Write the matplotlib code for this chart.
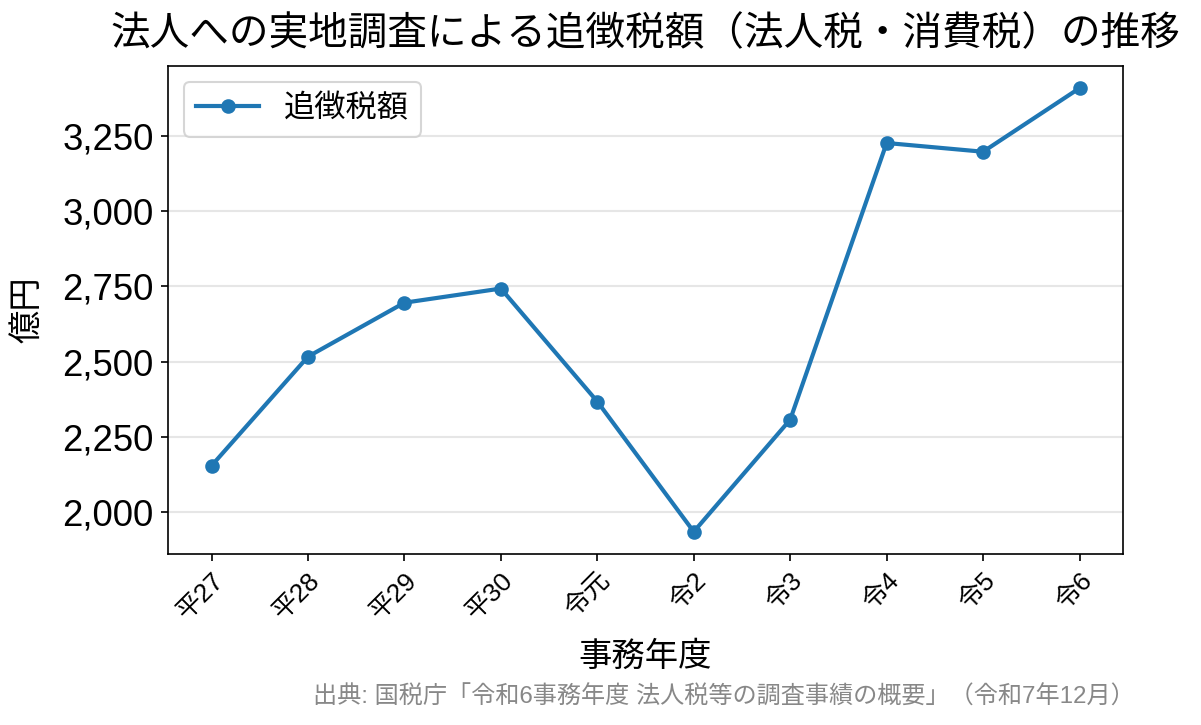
import matplotlib
matplotlib.use('Agg')
import matplotlib.pyplot as plt
from matplotlib.ticker import FuncFormatter, MultipleLocator

plt.rcParams['font.family'] = ['Liberation Sans', 'Noto Sans CJK JP']

# 事務年度ごとの追徴税額（億円）
years = ['平27', '平28', '平29', '平30', '令元', '令2', '令3', '令4', '令5', '令6']
amounts = [2155, 2517, 2696, 2743, 2368, 1936, 2308, 3226, 3197, 3408]

fig = plt.figure(figsize=(1201 / 150, 725 / 150), dpi=150)
ax = fig.add_axes([0.140, 0.236, 0.795, 0.673])

x = range(len(years))
ax.plot(x, amounts, marker='o', color='#1f77b4', linewidth=2, markersize=6, label='追徴税額')

ax.set_xticks(list(x))
ax.set_xticklabels(years, rotation=45, ha='right', rotation_mode='anchor', fontsize=12.5)
ax.tick_params(axis='y', labelsize=17.5)
ax.yaxis.set_major_locator(MultipleLocator(250))
ax.yaxis.set_major_formatter(FuncFormatter(lambda v, p: f'{int(v):,}'))
ax.grid(axis='y', color='#e6e6e6', linewidth=1)
ax.set_axisbelow(True)

ax.set_title('法人への実地調査による追徴税額（法人税・消費税）の推移', fontsize=19, pad=10)
ax.set_xlabel('事務年度', fontsize=16, labelpad=8)
ax.set_ylabel('億円', fontsize=16, labelpad=9)
ax.legend(loc='upper left', fontsize=15)

fig.text(0.945, 0.022, '出典: 国税庁「令和6事務年度 法人税等の調査事績の概要」（令和7年12月）',
         ha='right', va='bottom', fontsize=11.6, color='#888888')

fig.savefig('out.png', dpi=150)
